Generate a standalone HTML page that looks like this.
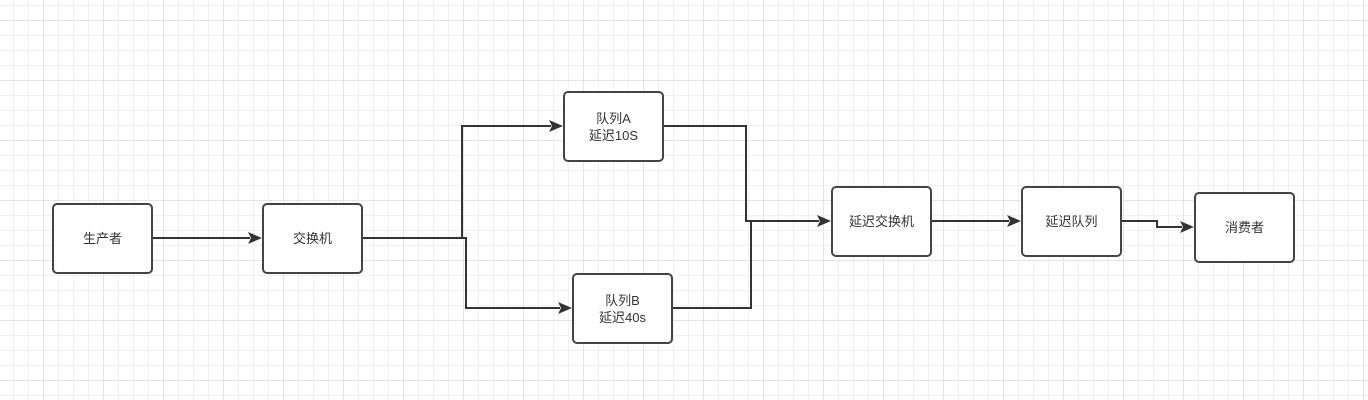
<!DOCTYPE html>
<html><head><meta charset="utf-8"><style>
html,body{margin:0;padding:0;}
body{width:1368px;height:400px;overflow:hidden;background-color:#fff;
background-image:
linear-gradient(#e4e4e4 1px,transparent 1px),
linear-gradient(90deg,#e4e4e4 1px,transparent 1px),
linear-gradient(#f1f1f1 1px,transparent 1px),
linear-gradient(90deg,#f1f1f1 1px,transparent 1px);
background-size:60px 60px,60px 60px,15px 15px,15px 15px;
background-position:0 20px,43px 0,0 5px,13px 0;
font-family:"Liberation Sans","Noto Sans CJK SC",sans-serif;}
svg{position:absolute;left:0;top:0}
.b{position:absolute;width:97px;height:67px;border:2px solid #444;border-radius:5px;background:#fff;display:flex;align-items:center;justify-content:center;text-align:center;font-size:13px;color:#333;line-height:17px;box-sizing:content-box}
</style></head><body>
<svg width="1368" height="400">
<g fill="none" stroke="#333" stroke-width="2">
<path d="M152,238 H250"/>
<path d="M362,238 H462 V126 H551"/>
<path d="M362,238 H466 V308 H560"/>
<path d="M663,126 H746 V221 H819"/>
<path d="M672,308 H751 V221"/>
<path d="M931,221 H1009"/>
<path d="M1121,221 H1157 V227 H1182"/>
</g>
<g fill="#333">
<path d="M262,238 l-14,-6 l3,6 l-3,6z"/>
<path d="M563,126 l-14,-6 l3,6 l-3,6z"/>
<path d="M572,308 l-14,-6 l3,6 l-3,6z"/>
<path d="M831,221 l-14,-6 l3,6 l-3,6z"/>
<path d="M1021,221 l-14,-6 l3,6 l-3,6z"/>
<path d="M1194,227 l-14,-6 l3,6 l-3,6z"/>
</g></svg>
<div class="b" style="left:52px;top:203px">生产者</div>
<div class="b" style="left:262px;top:203px">交换机</div>
<div class="b" style="left:563px;top:91px">队列A<br>延迟10S</div>
<div class="b" style="left:572px;top:273px">队列B<br>延迟40s</div>
<div class="b" style="left:831px;top:186px">延迟交换机</div>
<div class="b" style="left:1021px;top:186px">延迟队列</div>
<div class="b" style="left:1194px;top:192px">消费者</div>
</body></html>
